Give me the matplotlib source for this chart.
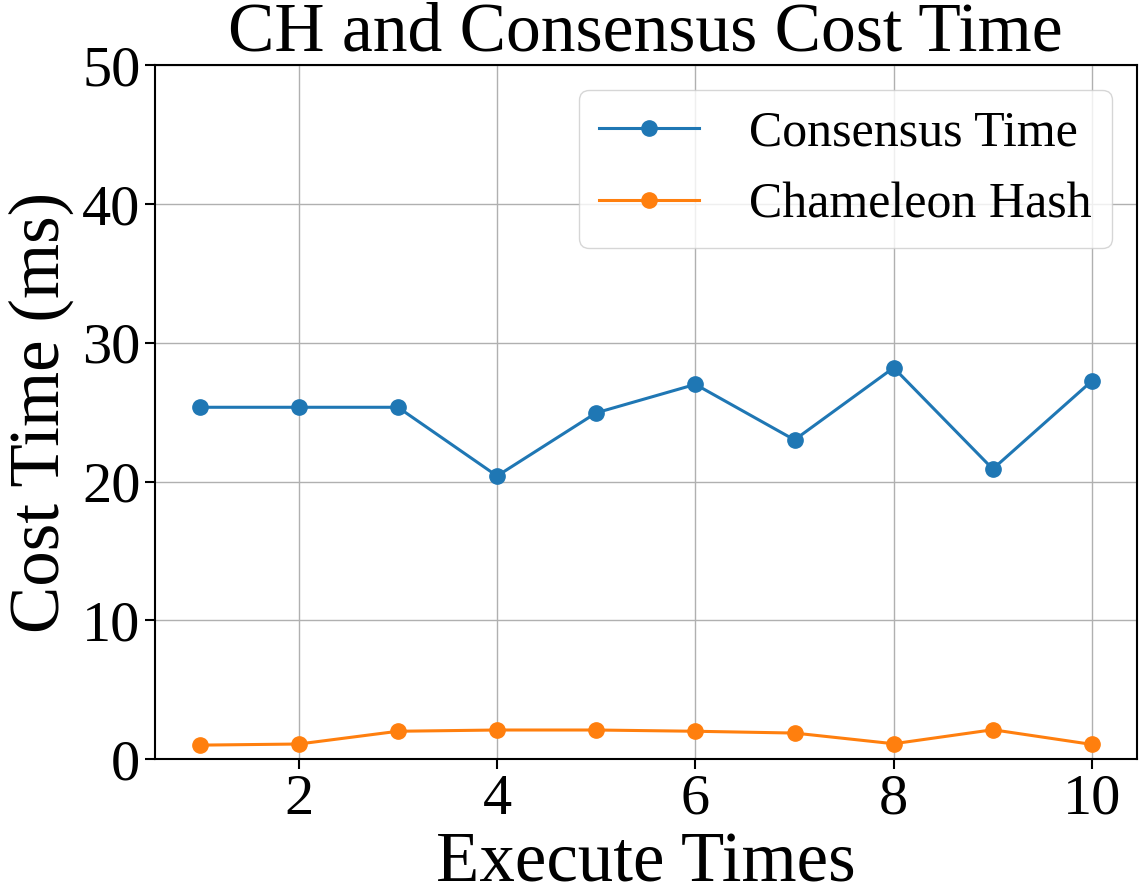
import matplotlib
matplotlib.use("Agg")
import matplotlib.pyplot as plt

plt.rcParams['font.family'] = ['Liberation Serif', 'DejaVu Serif']

execute_times = [1, 2, 3, 4, 5, 6, 7, 8, 9, 10]
consensus_time = [25.35, 25.35, 25.35, 20.4, 24.95, 27.0, 23.0, 28.2, 20.9, 27.25]
chameleon_hash = [1.0, 1.08, 2.0, 2.09, 2.09, 2.0, 1.87, 1.1, 2.11, 1.05]

fig = plt.figure(figsize=(11.44, 8.94), dpi=100)
ax = fig.add_axes([0.1355, 0.151, 0.858, 0.776])
ax.plot(execute_times, consensus_time, marker='o', color='#1f77b4', lw=2.2, ms=11, label='Consensus Time')
ax.plot(execute_times, chameleon_hash, marker='o', color='#ff7f0e', lw=2.2, ms=11, label='Chameleon Hash')
ax.set_ylim(0, 50)
ax.set_xlim(0.55, 10.45)
ax.set_xticks([2, 4, 6, 8, 10])
ax.set_yticks([0, 10, 20, 30, 40, 50])
ax.grid(True, color='#b0b0b0', lw=1.0)
ax.tick_params(labelsize=42, length=7, width=1.5)
for s in ax.spines.values():
    s.set_linewidth(1.5)
ax.set_title('CH and Consensus Cost Time', fontsize=50, pad=8)
ax.set_xlabel('Execute Times', fontsize=51, labelpad=4)
ax.set_ylabel('Cost Time (ms)', fontsize=51, labelpad=6)
ax.legend(loc='upper right', fontsize=36, borderaxespad=0.5, handletextpad=1.0)
fig.savefig('out.png', dpi=100)
